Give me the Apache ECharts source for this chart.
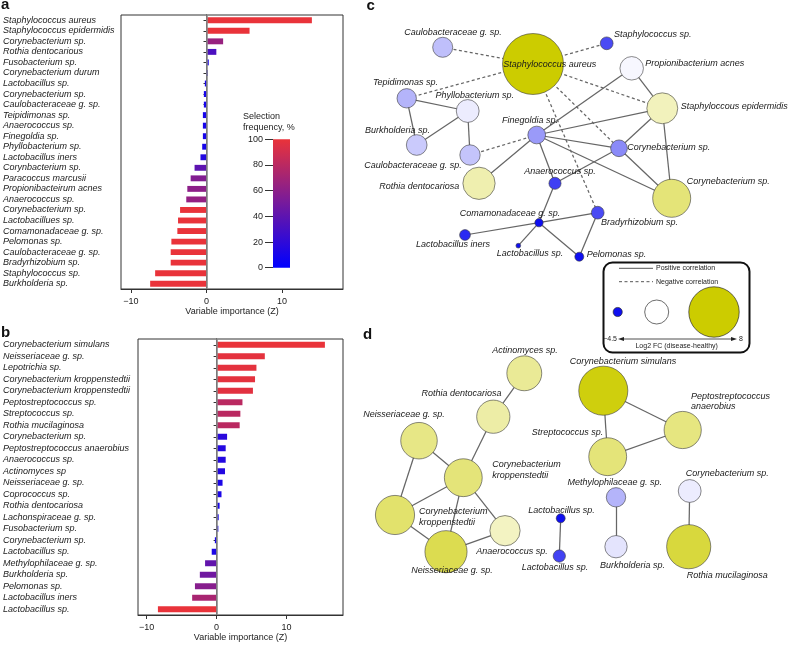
<!DOCTYPE html>
<html><head><meta charset="utf-8">
<script src="https://cdn.jsdelivr.net/npm/echarts@6/dist/echarts.min.js"></script>
<style>html,body{margin:0;padding:0;background:#fff}#main{width:789px;height:645px}</style>
</head><body><div id="main"></div>
<script>
// ---------- Panel a data ----------
const catsA = ['Staphylococcus aureus','Staphylococcus epidermidis','Corynebacterium sp.','Rothia dentocarious','Fusobacterium sp.','Corynebacterium durum','Lactobacillus sp.','Corynebacterium sp.','Caulobacteraceae g. sp.','Teipidimonas sp.','Anaerococcus sp.','Finegoldia sp.','Phyllobacterium sp.','Lactobacillus iners','Corynbacterium sp.','Paracoccus marcusii','Propionibacteirum acnes','Anaerococcus sp.','Corynebacterium sp.','Lactobacillues sp.','Comamonadaceae g. sp.','Pelomonas sp.','Caulobacteraceae g. sp.','Bradyrhizobium sp.','Staphylococcus sp.','Burkholderia sp.'];
const valsA = [13.95,5.7,2.2,1.3,0.3,0.17,-0.22,-0.35,-0.35,-0.48,-0.48,-0.48,-0.57,-0.8,-1.58,-2.1,-2.54,-2.68,-3.5,-3.77,-3.86,-4.65,-4.74,-4.74,-6.8,-7.46];
const freqA = [100,100,65,32,12,12,10,10,10,10,10,10,10,15,40,56,60,63,100,100,100,100,100,100,100,100];
// ---------- Panel b data ----------
const catsB = ['Corynebacterium simulans','Neisseriaceae g. sp.','Lepotrichia sp.','Corynebacterium kroppenstedtii','Corynebacterium kroppenstedtii','Peptostreptococcus sp.','Streptococcus sp.','Rothia mucilaginosa','Corynebacterium sp.','Peptostreptococcus anaerobius','Anaerococcus sp.','Actinomyces sp','Neisseriaceae g. sp.','Coprococcus sp.','Rothia dentocariosa','Lachonspiraceae g. sp.','Fusobacterium sp.','Corynebacterium sp.','Lactobacillus sp.','Methylophilaceae g. sp.','Burkholderia sp.','Pelomonas sp.','Lactobacillus iners','Lactobacillus sp.'];
const valsB = [15.5,6.9,5.7,5.5,5.2,3.7,3.4,3.3,1.5,1.3,1.3,1.2,0.85,0.7,0.43,0.3,0.25,-0.25,-0.7,-1.65,-2.4,-3.1,-3.5,-8.4];
const freqB = [100,98,98,98,97,80,80,80,18,15,15,15,12,12,10,10,10,10,12,42,48,58,72,100];
const xTicks = [-10, 0, 10];
const cbTicks = [0, 20, 40, 60, 80, 100];
// ---------- Panel c network ----------
const cNodes = ['Caulobacteraceae g. sp.','Staphylococcus aureus','Staphylococcus sp.','Propionibacterium acnes','Staphyloccous epidermidis','Tepidimonas sp.','Phyllobacterium sp.','Burkholderia sp.','Caulobacteraceae g. sp.','Finegoldia sp.','Corynebacterium sp.','Rothia dentocariosa','Anaerococcus sp.','Comamonadaceae g. sp.','Bradyrhizobium sp.','Lactobacillus iners','Lactobacillus sp.','Pelomonas sp.','Corynebacterium sp.'];
const cX = [92.7,183,256.7,281.7,312.3,56.7,117.7,66.7,120,186.7,269,129,205,189,247.7,115,168.3,229.3,321.7];
const cY = [47.3,64,43.3,68.3,108.3,98.3,111,145,155,135,148.3,183.3,183.3,222.7,212.7,235,245.7,256.7,198.3];
const cFC = [-1.2,11.2,-3.4,-0.15,2.1,-1.4,-0.35,-1.0,-1.1,-1.9,-2.2,2.5,-3.6,-4.75,-3.4,-4.0,-5.85,-4.55,4.25];
const cPos = [[5,6],[5,7],[6,7],[6,8],[9,3],[9,4],[9,10],[9,18],[9,11],[9,12],[3,4],[4,10],[4,18],[10,12],[10,18],[12,13],[13,15],[13,16],[13,17],[13,14],[14,17]];
const cNeg = [[0,1],[1,2],[1,5],[1,4],[1,10],[1,14],[9,8]];
// ---------- Panel d network ----------
const dNodes = ['Actinomyces sp.','Rothia dentocariosa','Neisseriaceae g. sp.','Corynebacterium\nkroppenstedtii','Corynebacterium\nkroppenstedtii','Neisseriaceae g. sp.','Anaerococcus sp.','Corynebacterium simulans','Peptostreptococcus\nanaerobius','Streptococcus sp.','Methylophilaceae g. sp.','Burkholderia sp.','Corynebacterium sp.','Rothia mucilaginosa','Lactobacillus sp.','Lactobacillus sp.'];
const dX = [174.3,143.3,69,113.3,45,96,155,253.3,332.7,257.7,266,266,339.7,338.7,210.7,209.3];
const dY = [53.3,96.7,120.7,157.7,195,231.7,210.7,70.7,110,136.7,177.3,226.7,171,226.7,198.3,236];
const dFC = [3.3,2.8,3.8,4.2,4.6,5.5,1.9,7.6,4.0,4.2,-1.4,-0.5,-0.35,6.1,-4.55,-3.55];
const dPos = [[0,1],[1,3],[2,3],[2,4],[3,4],[3,5],[3,6],[4,5],[5,6],[7,8],[7,9],[9,8],[10,11],[12,13],[14,15]];
const legendFC = [-4.5, 0, 8];

// ---------- styles ----------
const FONT = '"Liberation Sans", Arial, Helvetica, sans-serif';
const cLab = [['center',10.3,-15.3],['left',-29.7,0],['left',7.3,-8.6],['left',13.6,-5],['left',18.4,-2.3],['center',-1.2,-15.6],['center',7.1,-15.3],['center',-19.2,-15],['right',-8.3,10],['center',-6.7,-14.3],['left',8.3,-0.6],['right',-19.7,2.7],['center',5,-12.3],['center',-29,-9.4],['left',3.3,9.6],['center',-12,9],['center',11.7,7.6],['left',7.4,-2.7],['left',15,-17.3]];
const dLab = [['center',0.7,-22.6],['center',-31.8,-23.4],['center',-15,-26.4],['left',29,-7.8],['left',24,1.9],['center',6,19],['center',7,21],['center',19.7,-29],['left',8.3,-28.6],['right',-4.4,-24],['center',-1.3,-15],['center',16.5,18.3],['left',-4,-17.7],['left',-2,29],['center',0.8,-8.3],['center',-4.3,11.3]];

function mix(a,b,t){return 'rgb('+a.map((v,i)=>Math.round(v+(b[i]-v)*t)).join(',')+')';}
const FREQ_LO=[0,0,255], FREQ_HI=[233,51,58];
const freqColor = f => mix(FREQ_LO, FREQ_HI, f/100);
const WHITE=[255,255,255], NEG=[15,15,240], POS=[204,204,0];
const fcColor = fc => fc<0 ? mix(WHITE,NEG,Math.min(1,-fc/4.5)) : mix(WHITE,POS,Math.min(1,fc/8));
const fcSize = fc => Math.max(4.5, 24+3.3*fc);

const chart = echarts.init(document.getElementById('main'));

function barX(gi,min,max,gap){
  return {gridIndex:gi,type:'value',min,max,name:'Variable importance (Z)',nameLocation:'middle',nameGap:gap,
    nameTextStyle:{fontSize:9,color:'#222',fontFamily:FONT},
    axisLine:{show:true,onZero:false,lineStyle:{color:'#333',width:1}},
    axisTick:{show:true,length:4,customValues:xTicks,lineStyle:{color:'#333'}},
    axisLabel:{customValues:xTicks,margin:8,fontSize:9,color:'#222',fontFamily:FONT,formatter:v=>String(v).replace('-','\u2212')},
    splitLine:{show:false}};
}
function barY(gi,cats,margin){
  return {gridIndex:gi,type:'category',data:cats,inverse:true,
    axisLine:{show:true,lineStyle:{color:'#333'}},
    axisTick:{show:true,length:3,alignWithLabel:true,lineStyle:{color:'#333'}},
    axisLabel:{interval:0,margin,align:'left',fontStyle:'italic',fontSize:9,color:'#1a1a1a',fontFamily:FONT},
    splitLine:{show:false}};
}
function barSeries(ai,vals,freqs,bw){
  return {type:'bar',xAxisIndex:ai,yAxisIndex:ai,barWidth:bw,silent:true,
    data:vals.map((v,i)=>({value:v,itemStyle:{color:freqColor(freqs[i])}})),
    markLine:{silent:true,symbol:'none',label:{show:false},lineStyle:{color:'#8a8a8a',width:1.6,type:'solid'},data:[{xAxis:0}]}};
}
function graphSeries(ai,names,xs,ys,fcs,labs,pos,neg){
  const data = names.map((n,i)=>({id:'n'+ai+'_'+i,name:n,value:[xs[i],ys[i]],symbolSize:fcSize(fcs[i]),
    itemStyle:{color:fcColor(fcs[i])},label:{align:labs[i][0],offset:[labs[i][1],labs[i][2]]}}));
  const links = pos.map(([s,t])=>({source:s,target:t}))
    .concat(neg.map(([s,t])=>({source:s,target:t,lineStyle:{type:[3,2.5]}})));
  return {type:'graph',coordinateSystem:'cartesian2d',xAxisIndex:ai,yAxisIndex:ai,symbol:'circle',silent:true,
    data,links,edgeSymbol:['none','none'],
    lineStyle:{color:'#666',width:1.25,opacity:1,curveness:0},
    itemStyle:{borderColor:'rgba(60,60,60,0.75)',borderWidth:0.8},
    label:{show:true,position:['50%','50%'],verticalAlign:'middle',fontStyle:'italic',fontSize:9,color:'#1a1a1a',fontFamily:FONT,lineHeight:10.5,textBorderWidth:0},
    emphasis:{disabled:true}};
}
const hiddenAxis = (gi,min,max,inv)=>({gridIndex:gi,type:'value',min,max,inverse:!!inv,show:false});

const cbStops = [];
for(let f=0;f<=100;f+=10) cbStops.push({offset:1-f/100,color:freqColor(f)});
cbStops.reverse();

const txt = (text,x,y,extra)=>({type:'text',silent:true,style:Object.assign({text,x,y,fill:'#222',font:'9px '+FONT},extra||{})});
const legendX = [617.7,656.7,714];
const graphic = [
  txt('a',1,4.6,{font:'bold 15px '+FONT,verticalAlign:'middle',fill:'#111'}),
  txt('b',1,333.2,{font:'bold 15px '+FONT,verticalAlign:'middle',fill:'#111'}),
  txt('c',366.5,5.4,{font:'bold 15px '+FONT,verticalAlign:'middle',fill:'#111'}),
  txt('d',363,335,{font:'bold 15px '+FONT,verticalAlign:'middle',fill:'#111'}),
  txt('Selection\nfrequency, %',243,111.4,{lineHeight:10.6}),
  {type:'rect',silent:true,shape:{x:603.5,y:262.5,width:146,height:90,r:9},style:{fill:'#fff',stroke:'#111',lineWidth:2}},
  {type:'line',silent:true,shape:{x1:619,y1:268.3,x2:653,y2:268.3},style:{stroke:'#555',lineWidth:1}},
  {type:'line',silent:true,shape:{x1:619,y1:281.7,x2:653,y2:281.7},style:{stroke:'#555',lineWidth:1,lineDash:[3,2.5]}},
  txt('Positive correlation',656,268.3,{font:'7px '+FONT,verticalAlign:'middle'}),
  txt('Negative correlation',656,281.7,{font:'7px '+FONT,verticalAlign:'middle'}),
  {type:'line',silent:true,shape:{x1:621,y1:339,x2:734,y2:339},style:{stroke:'#222',lineWidth:0.8}},
  {type:'polygon',silent:true,shape:{points:[[618,339],[624,337],[624,341]]},style:{fill:'#222'}},
  {type:'polygon',silent:true,shape:{points:[[737,339],[731,337],[731,341]]},style:{fill:'#222'}},
  txt(String(legendFC[0]).replace('-','\u2212'),617,339,{font:'7px '+FONT,verticalAlign:'middle',align:'right'}),
  txt(String(legendFC[2]),739,339,{font:'7px '+FONT,verticalAlign:'middle'}),
  txt('Log2 FC (disease-healthy)',676.7,345.7,{font:'7px '+FONT,verticalAlign:'middle',align:'center'})
];
legendFC.forEach((fc,i)=>graphic.push({type:'circle',silent:true,shape:{cx:legendX[i],cy:312,r:fcSize(fc)/2},style:{fill:fcColor(fc),stroke:'rgba(40,40,40,0.85)',lineWidth:0.8}}));

chart.setOption({
  animation:false,
  textStyle:{fontFamily:FONT},
  grid:[
    {left:120,top:15,width:223,height:274,show:true,borderColor:'#333',borderWidth:1},
    {left:137,top:339,width:206,height:276,show:true,borderColor:'#333',borderWidth:1},
    {left:273,top:139.3,width:17,height:128.4},
    {left:350,top:0,width:439,height:300},
    {left:350,top:320,width:439,height:325}
  ],
  xAxis:[
    barX(0,-11.32,18.07,16),
    barX(1,-11.25,18.09,17.5),
    {gridIndex:2,type:'category',data:['freq'],show:false},
    hiddenAxis(3,0,439),
    hiddenAxis(4,0,439)
  ],
  yAxis:[
    barY(0,catsA,118),
    barY(1,catsB,135),
    {gridIndex:2,type:'value',min:0,max:100,interval:20,axisLine:{show:false},
      axisTick:{show:true,length:8,lineStyle:{color:'#333'}},
      axisLabel:{margin:10,fontSize:9,color:'#222',fontFamily:FONT},splitLine:{show:false}},
    hiddenAxis(3,0,300,true),
    hiddenAxis(4,0,325,true)
  ],
  series:[
    barSeries(0,valsA,freqA,'56%'),
    barSeries(1,valsB,freqB,'52%'),
    {type:'bar',xAxisIndex:2,yAxisIndex:2,barWidth:'100%',silent:true,data:[100],
      itemStyle:{color:new echarts.graphic.LinearGradient(0,0,0,1,cbStops)}},
    graphSeries(3,cNodes,cX,cY,cFC,cLab,cPos,cNeg),
    graphSeries(4,dNodes,dX,dY,dFC,dLab,dPos,[])
  ],
  graphic
});
</script></body></html>
